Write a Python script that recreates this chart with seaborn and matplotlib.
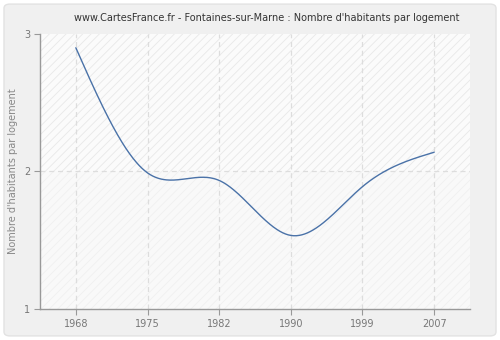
import numpy as np
import pandas as pd
import matplotlib
matplotlib.use("Agg")
import matplotlib.pyplot as plt
from matplotlib.patches import FancyBboxPatch, Rectangle
import seaborn as sns

years = ["1968", "1975", "1982", "1990", "1999", "2007"]
values = [2.90, 1.99, 1.935, 1.535, 1.89, 2.14]
yticks = [1, 2, 3]
title = "www.CartesFrance.fr - Fontaines-sur-Marne : Nombre d'habitants par logement"
ylabel = "Nombre d'habitants par logement"

sns.set_theme(style="white")
plt.rcParams['font.family'] = ['DejaVu Sans']
plt.rcParams['hatch.linewidth'] = 0.6

# natural cubic spline through the data points (display smoothing)
px = np.arange(len(values), dtype=float)
py = np.array(values, dtype=float)
n = len(px)
A = np.zeros((n, n))
rhs = np.zeros(n)
A[0, 0] = 1
A[-1, -1] = 1
for i in range(1, n - 1):
    A[i, i-1], A[i, i], A[i, i+1] = 1, 4, 1
    rhs[i] = 6 * (py[i+1] - 2*py[i] + py[i-1])
M = np.linalg.solve(A, rhs)
xs, ys = [], []
t = np.linspace(0, 1, 80)
for k in range(n - 1):
    yk = ((1-t)*py[k] + t*py[k+1]
          + ((1-t)**3 - (1-t)) * M[k] / 6 + (t**3 - t) * M[k+1] / 6)
    xs.extend(px[k] + t)
    ys.extend(yk)
df = pd.DataFrame({"x": xs, "y": ys})

fig = plt.figure(figsize=(5, 3.4), dpi=100)
fig.patch.set_facecolor("white")
fig.patches.append(FancyBboxPatch((0.008, 0.012), 0.984, 0.976,
                                  boxstyle="round,pad=0,rounding_size=0.012",
                                  transform=fig.transFigure, facecolor="#f0f0f0",
                                  edgecolor="#e2e2e2", linewidth=1.0, zorder=-10))
ax = fig.add_axes([0.08, 0.0912, 0.86, 0.8088])
ax.set_facecolor("#fafafa")
ax.add_patch(Rectangle((0, 0.5), 1, 0.5, transform=ax.transAxes, facecolor="#fbfbfb",
                       edgecolor="#e8e8e8", hatch="////", linewidth=0, zorder=0))
ax.add_patch(Rectangle((0, 0), 1, 0.5, transform=ax.transAxes, facecolor="#f9f9f9",
                       edgecolor="#f0f0f0", hatch="////", linewidth=0, zorder=0))

sns.lineplot(data=df, x="x", y="y", ax=ax, color="#4a72a8", linewidth=1.0, zorder=3,
             sort=False)

ax.set_xlim(-0.5, len(years) - 0.5)
ax.set_ylim(1, 3)
ax.set_xticks(range(len(years)))
ax.set_xticklabels(years)
ax.set_yticks(yticks)
ax.set_yticklabels([str(v) for v in yticks])
ax.set_xlabel("")
ax.set_ylabel(ylabel, color="#888888", fontsize=7)
fig.text(0.534, 0.947, title, fontsize=7.0, color="#333333", ha="center", va="center")

for x in range(len(years)):
    ax.axvline(x, color="#dddddd", linestyle=(0, (4, 3)), linewidth=0.9, zorder=1)
ax.axhline(2, color="#dddddd", linestyle=(0, (4, 3)), linewidth=0.9, zorder=1)

for s in ["top", "right"]:
    ax.spines[s].set_visible(False)
for s in ["left", "bottom"]:
    ax.spines[s].set_color("#999999")
    ax.spines[s].set_linewidth(1.0)
ax.tick_params(axis="both", which="major", direction="out", length=4, width=0.8,
               color="#999999", labelcolor="#777777", labelsize=7, pad=3)
ax.tick_params(axis="x", bottom=True)
ax.tick_params(axis="y", left=True)

fig.savefig("out.png", dpi=100, facecolor=fig.get_facecolor())
